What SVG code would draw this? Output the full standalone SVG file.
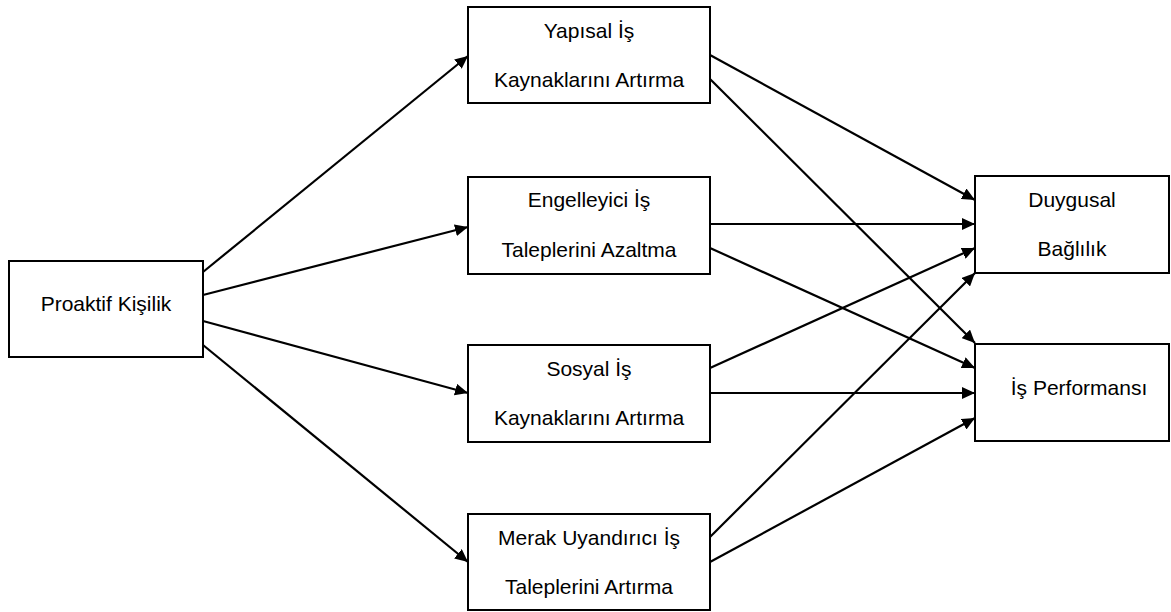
<svg xmlns="http://www.w3.org/2000/svg" width="1171" height="612" viewBox="0 0 1171 612">
<style>
.box{fill:#fff;stroke:#000;stroke-width:2}
.t{font-family:"Liberation Sans",Arial,sans-serif;font-size:21px;fill:#000;text-anchor:middle}
.c{stroke:#000;stroke-width:2.2;fill:none;marker-end:url(#ah)}
</style>
<defs>
<marker id="ah" markerUnits="userSpaceOnUse" markerWidth="14" markerHeight="12" refX="13" refY="6" orient="auto">
<path d="M0,0 L13,6 L0,12 Z" fill="#000"/>
</marker>
</defs>
<rect width="1171" height="612" fill="#fff"/>
<g id="connectors">
<line class="c" x1="203" y1="272" x2="468" y2="56"/>
<line class="c" x1="203" y1="295" x2="468" y2="227"/>
<line class="c" x1="203" y1="321" x2="468" y2="393"/>
<line class="c" x1="203" y1="345" x2="468" y2="562"/>
<line class="c" x1="710" y1="55" x2="975" y2="200"/>
<line class="c" x1="710" y1="79" x2="975" y2="343"/>
<line class="c" x1="710" y1="224" x2="975" y2="224"/>
<line class="c" x1="710" y1="248" x2="975" y2="368"/>
<line class="c" x1="710" y1="368" x2="975" y2="248"/>
<line class="c" x1="710" y1="393" x2="975" y2="393"/>
<line class="c" x1="710" y1="537" x2="975" y2="273"/>
<line class="c" x1="710" y1="562" x2="975" y2="418"/>
</g>
<g id="proaktif">
<rect class="box" x="9" y="261" width="194" height="96"/>
<text class="t" x="106" y="311">Proaktif Kişilik</text>
</g>
<g id="yapisal">
<rect class="box" x="468" y="7" width="242" height="96"/>
<text class="t" x="589" y="38">Yapısal İş</text>
<text class="t" x="589" y="87">Kaynaklarını Artırma</text>
</g>
<g id="engelleyici">
<rect class="box" x="468" y="177" width="242" height="97"/>
<text class="t" x="589" y="207">Engelleyici İş</text>
<text class="t" x="589" y="257">Taleplerini Azaltma</text>
</g>
<g id="sosyal">
<rect class="box" x="468" y="345" width="242" height="97"/>
<text class="t" x="589" y="376">Sosyal İş</text>
<text class="t" x="589" y="425">Kaynaklarını Artırma</text>
</g>
<g id="merak">
<rect class="box" x="468" y="514" width="242" height="96"/>
<text class="t" x="589" y="545">Merak Uyandırıcı İş</text>
<text class="t" x="589" y="594">Taleplerini Artırma</text>
</g>
<g id="duygusal">
<rect class="box" x="975" y="176" width="194" height="97"/>
<text class="t" x="1072" y="207">Duygusal</text>
<text class="t" x="1072" y="256">Bağlılık</text>
</g>
<g id="performans">
<rect class="box" x="975" y="344" width="194" height="97"/>
<text class="t" x="1079" y="395">İş Performansı</text>
</g>
</svg>
